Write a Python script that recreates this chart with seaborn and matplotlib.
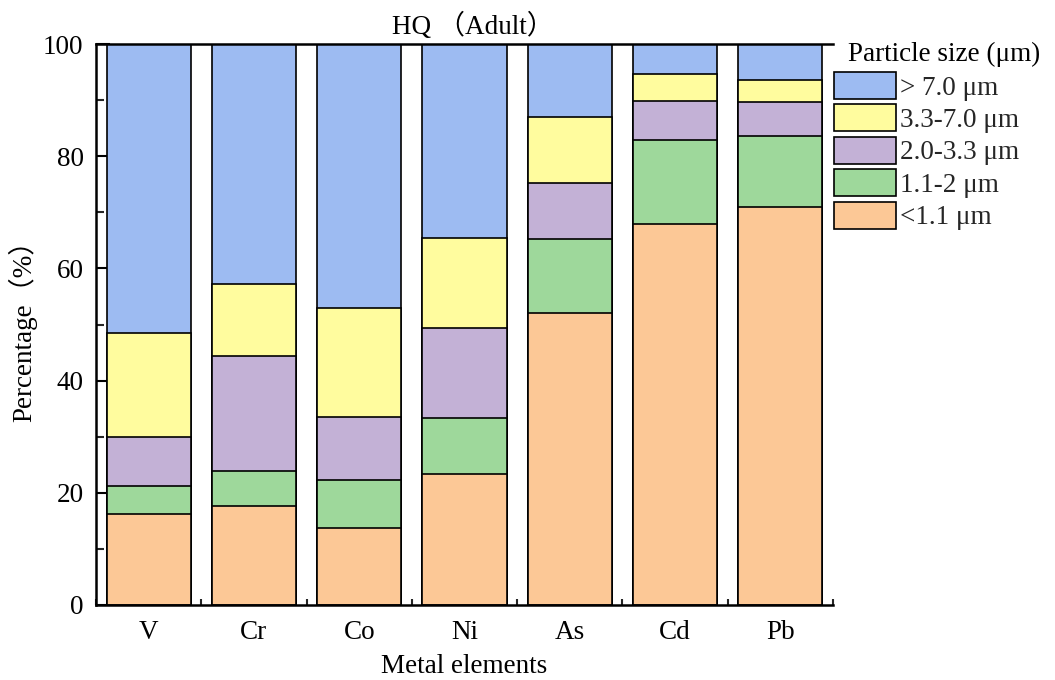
import numpy as np
import pandas as pd
import matplotlib
matplotlib.use("Agg")
import matplotlib.pyplot as plt
import seaborn as sns
from matplotlib.patches import Patch
from matplotlib.ticker import MultipleLocator, FixedLocator

# Metals and the share (%) of each particle-size fraction
elements = ["V", "Cr", "Co", "Ni", "As", "Cd", "Pb"]
lt_1_1 = [16.2, 17.7, 13.8, 23.3, 52.1, 68.0, 71.0]
f_1_1_2 = [5.0, 6.2, 8.4, 10.1, 13.1, 14.8, 12.6]
f_2_0_3_3 = [8.8, 20.4, 11.3, 16.0, 10.0, 7.0, 6.1]
f_3_3_7_0 = [18.4, 12.9, 19.4, 16.1, 11.7, 4.8, 3.8]
gt_7_0 = [51.6, 42.8, 47.1, 34.5, 13.1, 5.4, 6.5]

labels = ["> 7.0 μm", "3.3-7.0 μm", "2.0-3.3 μm", "1.1-2 μm", "<1.1 μm"]
colors = ["#9DBBF2", "#FFFC9E", "#C3B1D6", "#9ED89B", "#FCC896"]

FS = 19.5

sns.set_theme(style="white")
plt.rcParams["font.family"] = ["Liberation Serif", "Noto Sans CJK SC"]

fig = plt.figure(figsize=(10.55, 6.8), dpi=100)
ax = fig.add_axes([96 / 1055, 1 - 605 / 680, (833 - 96) / 1055, (605 - 44) / 680])

# Stack from the bottom fraction upward; draw cumulative totals largest first
layers_bottom_up = [lt_1_1, f_1_1_2, f_2_0_3_3, f_3_3_7_0, gt_7_0]
cum = np.cumsum(np.array(layers_bottom_up, dtype=float), axis=0)
cum_top_down = cum[::-1]

for heights, color in zip(cum_top_down, colors):
    df = pd.DataFrame({"element": elements, "value": heights})
    sns.barplot(data=df, x="element", y="value", order=elements, color=color,
                saturation=1, width=0.8, edgecolor="black", linewidth=1.2,
                errorbar=None, ax=ax)

ax.set_xlim(-0.5, 6.5)
ax.set_ylim(0, 100)
ax.yaxis.set_major_locator(MultipleLocator(20))
ax.yaxis.set_minor_locator(MultipleLocator(10))
ax.xaxis.set_minor_locator(FixedLocator(np.arange(-0.5, 7, 1.0)))

ax.tick_params(axis="both", which="major", direction="in", width=1.5,
               labelsize=FS, colors="black")
ax.tick_params(axis="y", which="major", length=10, pad=9)
ax.tick_params(axis="y", which="minor", direction="in", length=6, width=1.5)
ax.tick_params(axis="x", which="major", length=8, pad=11)
ax.tick_params(axis="x", which="minor", direction="in", length=4, width=1.5)
ax.tick_params(axis="y", which="both", left=True, right=False)
ax.tick_params(axis="x", which="both", bottom=True, top=False)

for side in ["left", "bottom", "top"]:
    ax.spines[side].set_visible(True)
    ax.spines[side].set_color("black")
    ax.spines[side].set_linewidth(1.8)
ax.spines["right"].set_visible(False)

ax.set_xlabel("Metal elements", fontsize=FS, color="black", labelpad=6)
ax.set_ylabel("Percentage（%）", fontsize=FS, color="black", labelpad=4)
ax.set_title("HQ （Adult）", fontsize=FS, color="black", pad=7.5, x=0.512)

handles = [Patch(facecolor=c, edgecolor="black", linewidth=1.2) for c in colors]
leg = ax.legend(handles, labels, loc="upper left",
                bbox_to_anchor=(834 / 1055, 1 - 72 / 680),
                bbox_transform=fig.transFigure, frameon=False, fontsize=FS,
                handlelength=2.3, handleheight=1.15,
                labelspacing=0.14, handletextpad=0.15, borderaxespad=0.0,
                borderpad=0.0)
fig.text(848 / 1055, 1 - 54 / 680, "Particle size (μm)", fontsize=FS,
         color="black", ha="left", va="center")

fig.savefig("out.png", dpi=100)
